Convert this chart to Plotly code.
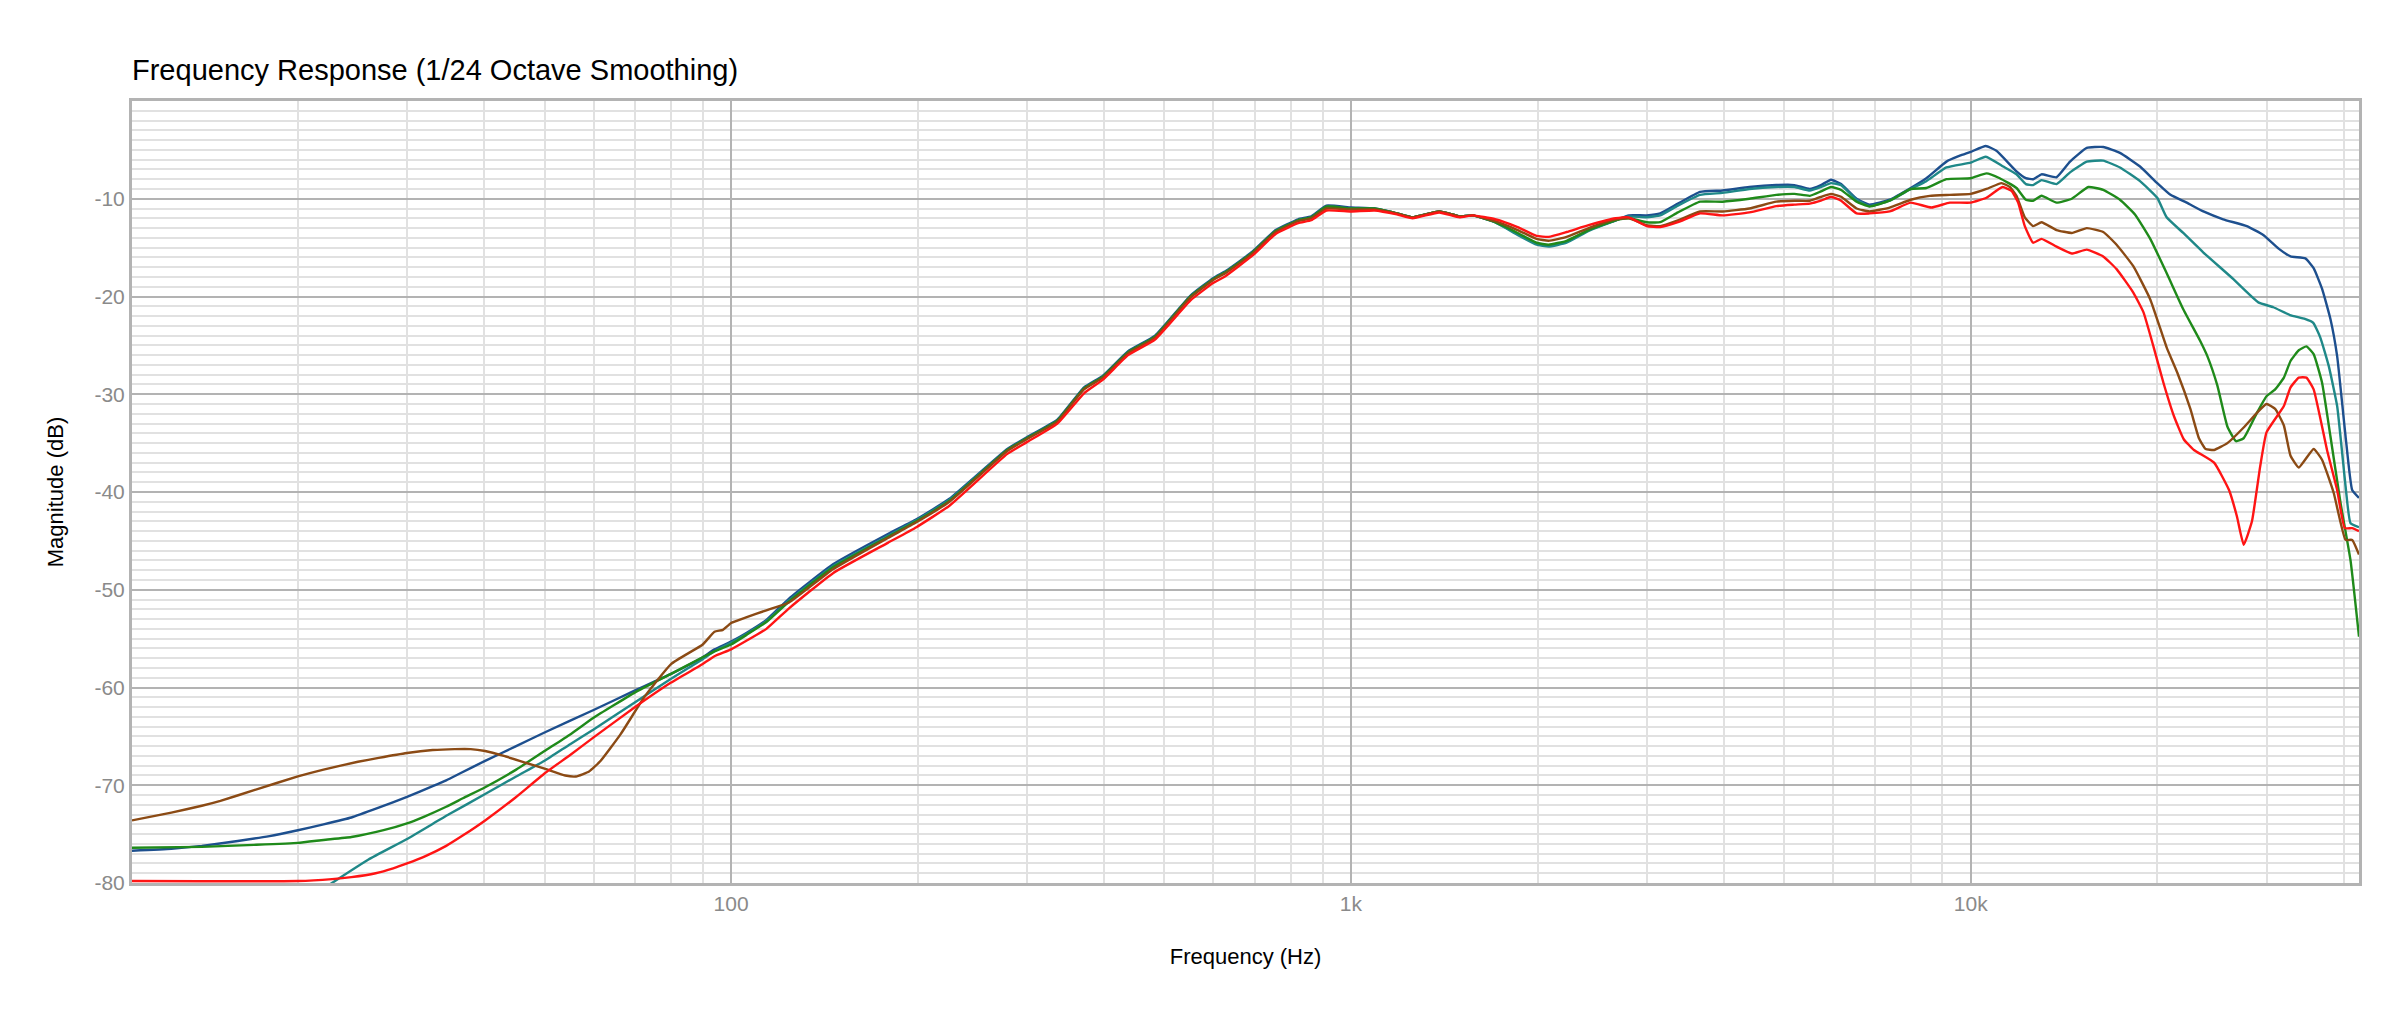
import numpy as np
import plotly.graph_objects as go

# ---------------- data ----------------
freq_blue = [10.8, 12.5, 14, 16, 18, 20, 22, 24.4, 27, 30, 33, 34.7, 36.5, 40.1, 45, 50, 60, 70, 80, 90, 94,
             100, 106, 114, 124, 146, 179, 199, 225, 279, 300, 336, 371, 398, 437, 483, 551, 600, 628, 694, 756,
             822, 863, 913, 1000, 1092, 1186, 1257, 1388, 1496, 1572, 1708,
             1857, 1993, 2084, 2228, 2418, 2674, 2808, 3000, 3155, 3369, 3659, 3978, 4393, 4856, 5194, 5500,
             5731, 5950, 6177, 6543, 6864, 7398, 8000, 8479, 9135, 9600, 10000, 10574, 11001, 11851, 12270,
             12607, 13006, 13752, 14458, 15384, 16356, 17406, 18752, 19990, 21000, 22300, 23730, 25540, 27880,
             29640, 31380, 32800, 34660, 35740, 36870, 38040, 39000, 40240, 41240, 42300]
db_blue = [-76.7, -76.5, -76.2, -75.7, -75.2, -74.6, -74.0, -73.3, -72.3, -71.2, -70.1, -69.5, -68.8, -67.5, -66.0, -64.6, -62.3, -60.3, -58.6, -56.9, -56.1,
           -55.3, -54.4, -53.1, -50.9, -47.4, -44.3, -42.8, -40.7, -35.6, -34.4, -32.6, -29.3, -28.1, -25.6, -24.0, -19.9, -18.1, -17.4, -15.4, -13.2,
           -12.1, -11.8, -10.7, -10.9, -11.0, -11.5, -11.9, -11.3, -11.8, -11.7, -12.4,
           -13.6, -14.6, -14.8, -14.4, -13.2, -12.2, -11.7, -11.7, -11.5, -10.5, -9.3, -9.15, -8.8, -8.6, -8.6, -9.0,
           -8.6, -8.05, -8.5, -10.0, -10.6, -10.1, -8.9, -7.9, -6.2, -5.6, -5.2, -4.6, -5.1, -7.2, -7.9,
           -8.0, -7.5, -7.8, -6.2, -4.8, -4.7, -5.3, -6.7, -8.4, -9.6, -10.4, -11.3, -12.1, -12.8,
           -13.7, -15.1, -15.9, -16.1, -17.1, -19.2, -22.3, -26.1, -34.3, -39.8, -40.6]

freq_teal = [10.8, 20, 22.7, 26, 30, 35, 40.1, 45, 50, 55, 60, 70, 80, 90, 94,
             100, 106, 114, 124, 146, 179, 199, 225, 279, 300, 336, 371, 398, 437, 483, 551, 600, 628, 694, 756,
             822, 863, 913, 1000, 1092, 1186, 1257, 1388, 1496, 1572, 1708,
             1857, 1993, 2084, 2228, 2418, 2674, 2808, 3000, 3155, 3369, 3659, 3978, 4393, 4856, 5194, 5500,
             5731, 5950, 6177, 6543, 6864, 7398, 8000, 8479, 9135, 10000, 10574, 11278, 11851, 12270,
             12607, 13006, 13752, 14458, 15384, 16356, 17406, 18752, 19990, 20700, 22020, 23730, 26500, 29100,
             30770, 32730, 34600, 35690, 36640, 37800, 39000, 40240, 40990, 42300]
db_teal = [-93.0, -82.3, -80.0, -77.6, -75.5, -73.0, -70.9, -69.1, -67.5, -65.8, -64.3, -61.5, -59.1, -57.1, -56.3,
           -55.4, -54.5, -53.2, -51.1, -47.6, -44.5, -42.9, -40.8, -35.7, -34.5, -32.7, -29.4, -28.2, -25.7, -24.1, -20.0, -18.2, -17.5, -15.5, -13.3,
           -12.2, -11.9, -10.8, -11.0, -11.0, -11.5, -11.9, -11.3, -11.8, -11.7, -12.4,
           -13.7, -14.7, -14.9, -14.5, -13.3, -12.2, -11.8, -11.9, -11.7, -10.7, -9.6, -9.4, -9.0, -8.8, -8.8, -9.15,
           -8.8, -8.4, -8.6, -10.1, -10.75, -10.2, -9.0, -8.2, -6.8, -6.3, -5.7, -6.7, -7.5, -8.5,
           -8.6, -8.1, -8.5, -7.3, -6.2, -6.1, -6.8, -8.2, -9.9, -11.9, -13.5, -15.5, -18.2, -20.6,
           -21.1, -21.9, -22.3, -22.7, -24.2, -27.1, -31.2, -39.4, -43.2, -43.6]

freq_green = [10.8, 14, 17, 20, 22, 24.4, 27.5, 30, 32, 34.7, 37, 40.1, 45, 50, 55, 60, 70, 80, 90, 94,
              100, 106, 114, 124, 146, 179, 199, 225, 279, 300, 336, 371, 398, 437, 483, 551, 600, 628, 694, 756,
              822, 863, 913, 1000, 1092, 1186, 1257, 1388, 1496, 1572, 1708,
              1857, 1993, 2084, 2228, 2418, 2674, 2808, 3000, 3155, 3369, 3659, 3978, 4393, 4856, 5194, 5500,
              5731, 5950, 6177, 6543, 6864, 7398, 8000, 8479, 9135, 10000, 10600, 11137, 11851, 12270,
              12607, 13006, 13752, 14550, 15477, 16356, 17406, 18404, 19480, 20700, 22020, 23430, 24080, 24990,
              25940, 26780, 27560, 28950, 30000, 30980, 32000, 32800, 33820, 34790, 35740, 36870, 38040, 39490,
              40990, 42300]
db_green = [-76.4, -76.3, -76.1, -75.9, -75.6, -75.3, -74.6, -73.9, -73.2, -72.2, -71.3, -70.2, -68.4, -66.5, -64.8, -63.1, -60.5, -58.6, -56.9, -56.3,
            -55.6, -54.6, -53.3, -51.2, -47.7, -44.6, -43.0, -40.9, -35.7, -34.5, -32.7, -29.4, -28.2, -25.7, -24.1, -20.0, -18.2, -17.5, -15.5, -13.3,
            -12.2, -11.9, -10.8, -11.0, -11.0, -11.5, -11.9, -11.3, -11.8, -11.7, -12.4,
            -13.5, -14.5, -14.7, -14.3, -13.2, -12.2, -12.0, -12.4, -12.4, -11.4, -10.3, -10.3, -10.0, -9.6, -9.5, -9.7,
            -9.25, -8.8, -9.1, -10.3, -10.8, -10.2, -9.0, -8.9, -8.0, -7.9, -7.4, -7.9, -8.9, -10.1,
            -10.2, -9.7, -10.4, -10.0, -8.8, -9.1, -10.1, -11.6, -14.1, -17.6, -21.3, -24.5, -26.1, -29.1,
            -33.3, -34.8, -34.5, -31.9, -30.2, -29.5, -28.3, -26.6, -25.5, -25.1, -25.9, -28.8, -34.3, -41.1,
            -47.0, -54.8]

freq_brown = [10.8, 12.5, 14, 15, 17, 20, 22, 25, 27, 30, 33, 35.8, 38, 40.1, 43, 46.6, 50, 54, 56.2, 59, 61.6, 66.3, 72.4, 80, 90, 94, 97,
              100, 106, 114, 124, 146, 179, 199, 225, 279, 300, 336, 371, 398, 437, 483, 551, 600, 628, 694, 756,
              822, 863, 913, 1000, 1092, 1186, 1257, 1388, 1496, 1572, 1708,
              1857, 1993, 2084, 2228, 2418, 2674, 2808, 3000, 3155, 3369, 3659, 3978, 4393, 4856, 5194, 5500,
              5731, 5950, 6177, 6543, 6864, 7398, 8000, 8586, 9249, 10000, 10600, 11208, 11563, 11851, 12222,
              12607, 13006, 13752, 14550, 15384, 16356, 17190, 18289, 19480, 20700, 21540, 22610, 23340, 23930,
              24690, 25940, 27560, 28950, 30000, 30980, 32000, 32800, 33820, 35740, 36870, 38510, 40240, 41240,
              42300]
db_brown = [-73.6, -72.8, -72.1, -71.6, -70.5, -69.1, -68.4, -67.6, -67.2, -66.7, -66.4, -66.3, -66.3, -66.5, -67.0, -67.7, -68.3, -69.0, -69.1, -68.6, -67.5, -64.8, -61.0, -57.6, -55.6, -54.3, -54.1,
            -53.4, -52.8, -52.1, -51.3, -47.9, -44.7, -43.1, -41.0, -35.8, -34.6, -32.8, -29.5, -28.3, -25.8, -24.2, -20.1, -18.3, -17.6, -15.6, -13.4,
            -12.3, -12.0, -11.0, -11.1, -11.1, -11.5, -11.9, -11.3, -11.8, -11.7, -12.3,
            -13.2, -14.1, -14.3, -13.9, -13.0, -12.1, -12.0, -12.7, -12.8, -12.2, -11.3, -11.3, -11.0, -10.3, -10.2, -10.2,
            -9.8, -9.5, -9.8, -11.0, -11.3, -10.9, -10.1, -9.7, -9.6, -9.5, -9.0, -8.4, -8.8, -9.7, -11.9,
            -12.8, -12.4, -13.2, -13.5, -13.0, -13.4, -14.7, -16.9, -20.3, -25.2, -27.8, -31.5, -34.5, -35.6,
            -35.7, -35.0, -33.4, -31.9, -31.0, -31.5, -33.2, -36.3, -37.5, -35.6, -36.7, -40.1, -44.9, -44.9,
            -46.4]

freq_red = [10.8, 20, 22.7, 24.4, 26.7, 28.5, 30, 32, 34.7, 37, 40.1, 45, 50, 55, 60, 70, 80, 90, 94,
            100, 106, 114, 124, 146, 179, 199, 225, 279, 300, 336, 371, 398, 437, 483, 551, 600, 628, 694, 756,
            822, 863, 913, 1000, 1092, 1186, 1257, 1388, 1496, 1572, 1708,
            1857, 1993, 2084, 2228, 2418, 2674, 2808, 3000, 3155, 3369, 3659, 3978, 4393, 4856, 5194, 5500,
            5731, 5950, 6177, 6543, 6864, 7398, 8000, 8640, 9249, 10000, 10600, 11250, 11634, 11924, 12222,
            12607, 13006, 13752, 14550, 15384, 16356, 17190, 18289, 18990, 19730, 20450, 21260, 22060, 22910,
            24690, 26100, 26880, 27560, 28420, 29300, 30000, 32000, 32800, 33820, 34790, 35740, 37560, 39000,
            40130, 41240, 42300]
db_red = [-79.8, -79.8, -79.6, -79.4, -79.0, -78.5, -78.0, -77.3, -76.2, -75.1, -73.6, -71.2, -68.8, -66.9, -65.1, -62.0, -59.5, -57.6, -56.8,
          -56.1, -55.2, -54.0, -51.9, -48.3, -45.2, -43.6, -41.4, -36.1, -34.9, -33.0, -29.9, -28.5, -26.0, -24.4, -20.4, -18.6, -17.9, -15.8, -13.6,
          -12.5, -12.2, -11.2, -11.3, -11.2, -11.6, -12.0, -11.4, -11.9, -11.7, -12.1,
          -12.9, -13.8, -13.9, -13.4, -12.7, -12.0, -11.9, -12.8, -12.9, -12.4, -11.5, -11.7, -11.4, -10.75, -10.6, -10.5,
          -10.2, -9.8, -10.2, -11.5, -11.5, -11.3, -10.4, -10.9, -10.4, -10.4, -9.9, -8.8, -9.2, -10.4, -12.8,
          -14.5, -14.1, -14.9, -15.6, -15.2, -15.9, -17.2, -19.6, -21.6, -25.2, -28.8, -32.2, -34.6, -35.7,
          -37.0, -39.8, -42.5, -45.4, -43.0, -37.4, -33.9, -31.2, -29.3, -28.3, -28.3, -29.5, -35.7, -39.8,
          -43.7, -43.7, -44.0]

x_tick_vals = [100, 1000, 10000]
x_tick_text = ["100", "1k", "10k"]
x_minor_vals = [20, 30, 40, 50, 60, 70, 80, 90,
                200, 300, 400, 500, 600, 700, 800, 900,
                2000, 3000, 4000, 5000, 6000, 7000, 8000, 9000,
                20000, 30000, 40000]
y_tick_vals = [-80, -70, -60, -50, -40, -30, -20, -10]
y_tick_text = ["-80", "-70", "-60", "-50", "-40", "-30", "-20", "-10"]

# ---------------- figure ----------------
FONT = "Liberation Sans, Arial, Helvetica, sans-serif"
series = [
    (freq_blue, db_blue, "#1d4f8e"),
    (freq_teal, db_teal, "#1f8888"),
    (freq_green, db_green, "#1f8a1a"),
    (freq_brown, db_brown, "#8b4a14"),
    (freq_red, db_red, "#ff1414"),
]

fig = go.Figure()
for fx, fy, col in series:
    fig.add_trace(go.Scatter(x=fx, y=fy, mode="lines",
                             line=dict(color=col, width=2.4, shape="spline", smoothing=0.4),
                             showlegend=False, hoverinfo="skip"))

fig.update_layout(
    width=2400, height=1022,
    margin=dict(l=132, r=41, t=101, b=139),
    paper_bgcolor="white", plot_bgcolor="white",
    font=dict(family=FONT, color="black"),
    title=dict(text="Frequency Response (1/24 Octave Smoothing)",
               font=dict(family=FONT, size=29, color="black"),
               x=132 / 2400, xanchor="left", xref="container",
               y=1 - 70 / 1022, yanchor="middle", yref="container"),
    xaxis=dict(type="log", range=[np.log10(10.8), np.log10(42300)],
               tickmode="array", tickvals=x_tick_vals, ticktext=x_tick_text,
               showgrid=True, gridcolor="#b3b3b3", gridwidth=2,
               minor=dict(tickmode="array", tickvals=x_minor_vals, showgrid=True,
                          gridcolor="#e1e1e1", gridwidth=2, ticks=""),
               showline=True, mirror=True, linecolor="#b3b3b3", linewidth=3,
               zeroline=False, ticks="",
               tickfont=dict(family=FONT, size=21, color="#8a8a8a"),
               title=dict(text="Frequency (Hz)", font=dict(family=FONT, size=22, color="black"),
                          standoff=35)),
    yaxis=dict(range=[-80, 0], tickmode="array", tickvals=y_tick_vals, ticktext=y_tick_text,
               showgrid=True, gridcolor="#b3b3b3", gridwidth=2,
               minor=dict(dtick=1, tick0=0, showgrid=True, gridcolor="#e1e1e1", gridwidth=2, ticks=""),
               showline=True, mirror=True, linecolor="#b3b3b3", linewidth=3,
               zeroline=False, ticks="",
               tickfont=dict(family=FONT, size=21, color="#8a8a8a"),
               title=dict(text="Magnitude (dB)", font=dict(family=FONT, size=22, color="black"),
                          standoff=25)),
)

fig.write_html("out.html")
